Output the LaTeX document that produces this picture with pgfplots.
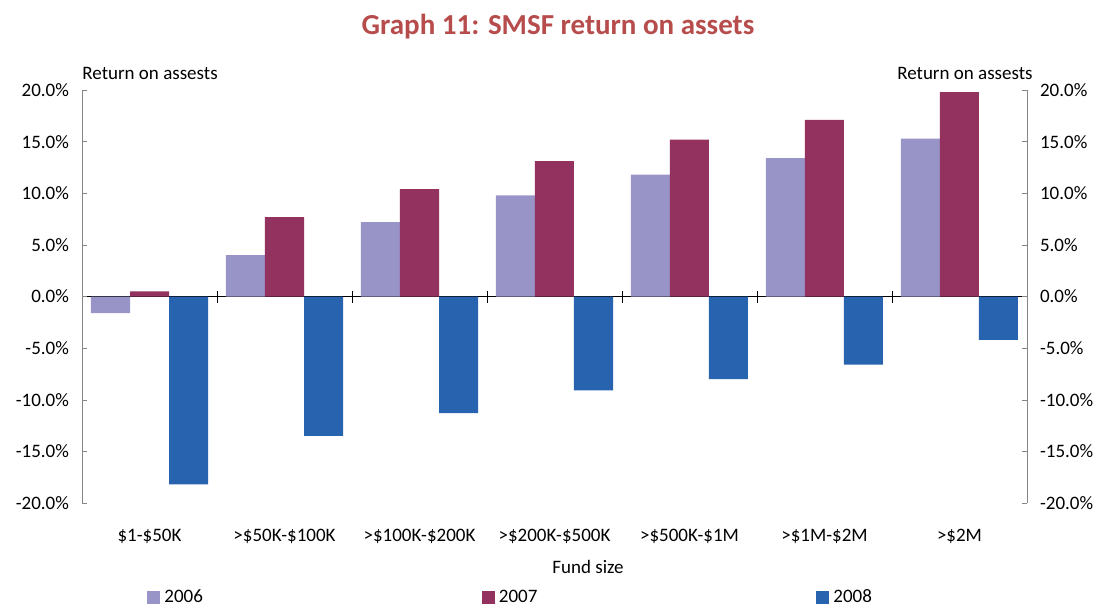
\documentclass[border=0pt]{standalone}
\usepackage{fontspec}
\setmainfont{Carlito}
\usepackage{pgfplots}
\usepackage{pgfplotstable}
\pgfplotsset{compat=1.18}

\definecolor{c2006}{RGB}{152,148,200}
\definecolor{c2007}{RGB}{147,50,95}
\definecolor{c2008}{RGB}{39,99,174}
\definecolor{ctitle}{RGB}{183,76,76}
\definecolor{axgray}{RGB}{134,134,134}

\newcommand\lbl{\fontsize{9.5}{11.4}\selectfont}

% fund size group, returns (%) for 2006 / 2007 / 2008
\pgfplotstableread{
g  y06   y07   y08
0  -1.6  0.5   -18.2
1  4.0   7.7   -13.5
2  7.2   10.4  -11.3
3  9.8   13.1  -9.1
4  11.8  15.2  -8.0
5  13.4  17.1  -6.6
6  15.3  19.8  -4.2
}\smsf

\pgfplotsset{
  common/.style={
    scale only axis, width=472.5pt, height=206.5pt,
    xmin=-0.5, xmax=6.5, ymin=-20, ymax=20,
    ytick={-20,-15,...,20},
    yticklabel={\pgfmathprintnumber[fixed,fixed zerofill,precision=1]{\tick}\%},
    /pgf/number format/assume math mode=true,
    tick label style={font=\lbl},
    label style={font=\lbl},
    ytick align=inside,
    major tick length=2.5pt,
    y axis line style={draw=axgray},
    ytick style={draw=axgray},
  }
}

\begin{document}
\begin{tikzpicture}
\useasboundingbox (-41pt,-51pt) rectangle (510pt,251.5pt);

% bars, zero line and group separators
\begin{axis}[common,
  axis y line=none,
  axis x line*=middle,
  x axis line style={draw=black},
  hide obscured x ticks=false,
  xtick={0.5,1.5,...,5.5}, xticklabels={},
  tick align=outside,
  major tick length=6pt,
  xtick style={draw=black, yshift=3pt},
  ybar=0pt, bar width=19.5pt,
  legend columns=3,
  legend style={draw=none, fill=none, font=\lbl, at={(0.0688,-0.23)}, anchor=west,
    /tikz/every even column/.append style={column sep=137.5pt},
    inner sep=0pt},
  legend image code/.code={\fill[#1,draw=none] (0pt,-3.1pt) rectangle (6.5pt,3.4pt);},
]
\addplot[fill=c2006, draw=none] table[x=g, y=y06] {\smsf};
\addplot[fill=c2007, draw=none] table[x=g, y=y07] {\smsf};
\addplot[fill=c2008, draw=none] table[x=g, y=y08] {\smsf};
\legend{2006,2007,2008}
\end{axis}

% left value axis
\begin{axis}[common,
  hide x axis,
  axis y line*=left,
  yticklabel style={xshift=-3pt},
]
\addplot[draw=none] coordinates {(0,0)};
\end{axis}

% right value axis, categories and texts
\begin{axis}[common,
  clip=false,
  axis y line*=right,
  axis x line*=bottom,
  x axis line style={draw=none},
  xtick={0,...,6},
  xticklabels={\$1-\$50K, >\$50K-\$100K, >\$100K-\$200K, >\$200K-\$500K, >\$500K-\$1M, >\$1M-\$2M, >\$2M},
  xtick style={draw=none},
  xticklabel style={yshift=-9.5pt},
  yticklabel style={xshift=3pt},
  xlabel={Fund size},
  xlabel style={at={(axis description cs:0.5355,-0.155)}, anchor=center},
]
\addplot[draw=none] coordinates {(0,0)};
\node[font=\lbl, anchor=base west, inner sep=0pt] at (rel axis cs:0,1) [yshift=5.5pt] {Return on assests};
\node[font=\lbl, anchor=base east, inner sep=0pt] at (rel axis cs:1,1) [xshift=3pt, yshift=5.5pt] {Return on assests};
\node[font=\fontsize{14.5}{17}\selectfont\bfseries, text=ctitle] at (rel axis cs:0.5037,1) [yshift=31.5pt] {Graph 11: SMSF return on assets};
\end{axis}
\end{tikzpicture}
\end{document}
